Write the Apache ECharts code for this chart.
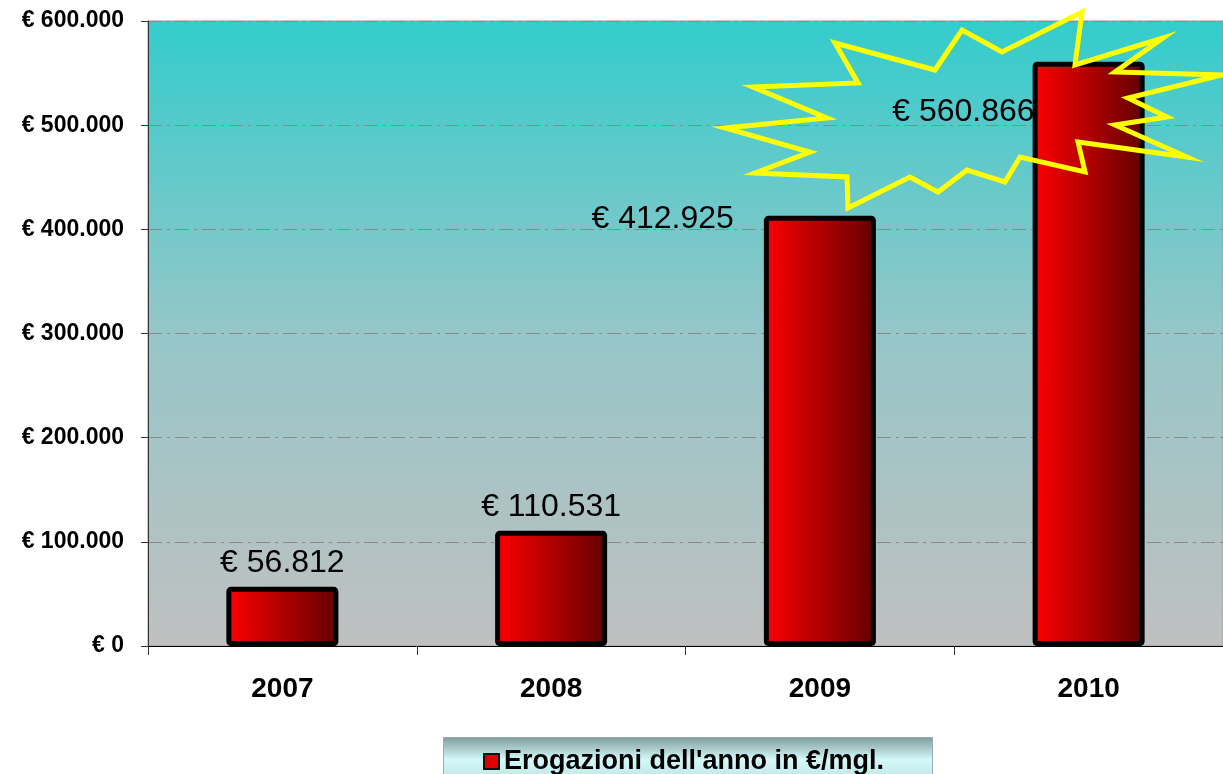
<!DOCTYPE html>
<html>
<head>
<meta charset="utf-8">
<script src="https://cdn.jsdelivr.net/npm/echarts@6/dist/echarts.min.js"></script>
<style>
html, body { margin: 0; padding: 0; background: #fff; }
#chart { width: 1223px; height: 774px; }
</style>
</head>
<body>
<div id="chart"></div>
<script>
// anni / erogazioni
var years = ['2007', '2008', '2009', '2010'];
var erogazioni = [56812, 110531, 412925, 560866];
var seriesName = "Erogazioni dell'anno in €/mgl.";
var yMin = 0, yMax = 600000, yStep = 100000;

function euro(v) {
    return '€ ' + String(v).replace(/\B(?=(\d{3})+(?!\d))/g, '.');
}

var font = "Arial, 'Liberation Sans', sans-serif";

// etichette: le prime due sopra, 2009 a sinistra, 2010 dentro la stella
var labelOpts = [
    { position: 'top', distance: 8 },
    { position: 'top', distance: 8 },
    { position: [-30, 3], align: 'right', verticalAlign: 'middle' },
    { position: [2, 50], align: 'right', verticalAlign: 'middle' }
];
var barData = [];
for (var i = 0; i < erogazioni.length; i++) {
    barData.push({ value: erogazioni[i], label: labelOpts[i] });
}

var myChart = echarts.init(document.getElementById('chart'));
var option = {
    animation: false,
    grid: {
        left: 148, top: 21, width: 1080, bottom: 128,
        show: true,
        borderColor: '#999', borderWidth: 1,
        backgroundColor: {
            type: 'linear', x: 0, y: 0, x2: 0, y2: 1,
            colorStops: [
                { offset: 0, color: '#33cccc' },
                { offset: 0.5, color: '#96c6c8' },
                { offset: 1, color: '#c0c0c0' }
            ]
        }
    },
    legend: {
        data: [{
            name: seriesName,
            itemStyle: { color: '#e00000', borderColor: '#111', borderWidth: 2 }
        }],
        left: 478, top: 743,
        selectedMode: false,
        icon: 'rect',
        itemWidth: 15, itemHeight: 15, itemGap: 6,
        textStyle: { fontFamily: font, fontWeight: 'bold', fontSize: 27, color: '#000' }
    },
    xAxis: {
        type: 'category',
        data: years,
        axisLine: { lineStyle: { color: '#000', width: 1 } },
        axisTick: { show: true, length: 9, lineStyle: { color: '#333' } },
        axisLabel: { fontFamily: font, fontWeight: 'bold', fontSize: 28, color: '#000', margin: 29 }
    },
    yAxis: {
        type: 'value',
        min: yMin, max: yMax, interval: yStep,
        axisLine: { show: true, lineStyle: { color: '#333', width: 1 } },
        axisTick: { show: true, length: 7, lineStyle: { color: '#333' } },
        axisLabel: {
            fontFamily: font, fontWeight: 'bold', fontSize: 23, color: '#000', margin: 24,
            formatter: function (v) { return euro(v); }
        },
        splitLine: { lineStyle: { color: '#8a8a8a', type: [14, 5, 3, 5], width: 1 } }
    },
    series: [{
        name: seriesName,
        type: 'bar',
        barWidth: 112,
        data: barData,
        itemStyle: {
            borderColor: '#000', borderWidth: 5, borderRadius: 2,
            color: {
                type: 'linear', x: 0, y: 0, x2: 1, y2: 0,
                colorStops: [
                    { offset: 0, color: '#ff0000' },
                    { offset: 1, color: '#620000' }
                ]
            }
        },
        label: {
            show: true,
            fontFamily: font, fontSize: 32, color: '#000',
            formatter: function (p) { return euro(p.value); }
        }
    }],
    graphic: [
        {
            type: 'rect',
            left: 443, top: 737, z: -1,
            shape: { width: 489, height: 40 },
            style: {
                fill: {
                    type: 'linear', x: 0, y: 0, x2: 0, y2: 1,
                    colorStops: [
                        { offset: 0, color: '#7f9c9c' },
                        { offset: 0.55, color: '#d4f8f8' },
                        { offset: 1, color: '#bfe6e6' }
                    ]
                },
                stroke: '#9ab', lineWidth: 1
            }
        },
        {
            // stella gialla
            type: 'polygon', z: 100,
            shape: {
                points: [
                    [835, 43], [935, 70], [962, 30], [1002, 52], [1082, 12], [1075, 65],
                    [1163, 38], [1115, 72], [1222, 75], [1128, 98], [1167, 117], [1115, 125],
                    [1187, 157], [1078, 142], [1085, 172], [1020, 157], [1005, 182], [967, 170],
                    [938, 192], [910, 177], [848, 208], [847, 177], [755, 173], [810, 152],
                    [725, 128], [827, 118], [753, 87], [858, 83]
                ]
            },
            style: { fill: null, stroke: '#ffff00', lineWidth: 5, lineJoin: 'miter' }
        }
    ]
};
myChart.setOption(option);
</script>
</body>
</html>
